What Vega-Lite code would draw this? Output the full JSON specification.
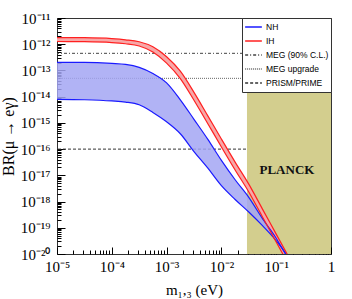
{
  "$schema": "https://vega.github.io/schema/vega-lite/v6.json",
  "width": 274,
  "height": 236,
  "autosize": {"type": "none"},
  "padding": {"left": 57, "top": 18, "right": 21, "bottom": 45},
  "background": "white",
  "config": {"view": {"stroke": "#333", "strokeWidth": 1}},
  "datasets": {
    "nh": [
      {"x": 1e-5, "hi": 2.04e-13, "lo": 7.94e-15},
      {"x": 3.16e-5, "hi": 2.03e-13, "lo": 7.64e-15},
      {"x": 1e-4, "hi": 1.86e-13, "lo": 6.86e-15},
      {"x": 1.78e-4, "hi": 1.70e-13, "lo": 6.22e-15},
      {"x": 3.16e-4, "hi": 1.31e-13, "lo": 4.93e-15},
      {"x": 5.62e-4, "hi": 7.66e-14, "lo": 2.51e-15},
      {"x": 1e-3, "hi": 3.37e-14, "lo": 1.10e-15},
      {"x": 1.78e-3, "hi": 7.59e-15, "lo": 3.86e-16},
      {"x": 3.16e-3, "hi": 1.37e-15, "lo": 8.09e-17},
      {"x": 5.62e-3, "hi": 2.40e-16, "lo": 1.91e-17},
      {"x": 1e-2, "hi": 3.72e-17, "lo": 4.02e-18},
      {"x": 1.78e-2, "hi": 6.78e-18, "lo": 1.20e-18},
      {"x": 3.16e-2, "hi": 1.45e-18, "lo": 3.98e-19},
      {"x": 5.62e-2, "hi": 2.24e-19, "lo": 1.20e-19},
      {"x": 0.1, "hi": 4.0e-20, "lo": 3.2e-20},
      {"x": 0.1225, "hi": 1.95e-20, "lo": 1.85e-20},
      {"x": 0.158, "hi": 8.9e-21, "lo": 7.9e-21}
    ],
    "ih": [
      {"x": 1e-5, "hi": 1.80e-12, "lo": 1.27e-12},
      {"x": 3.16e-5, "hi": 1.77e-12, "lo": 1.25e-12},
      {"x": 1e-4, "hi": 1.63e-12, "lo": 1.16e-12},
      {"x": 1.78e-4, "hi": 1.47e-12, "lo": 1.04e-12},
      {"x": 3.16e-4, "hi": 1.24e-12, "lo": 8.55e-13},
      {"x": 5.62e-4, "hi": 7.98e-13, "lo": 5.04e-13},
      {"x": 1e-3, "hi": 3.33e-13, "lo": 1.91e-13},
      {"x": 1.78e-3, "hi": 9.33e-14, "lo": 4.90e-14},
      {"x": 3.16e-3, "hi": 1.46e-14, "lo": 7.31e-15},
      {"x": 5.62e-3, "hi": 1.90e-15, "lo": 9.53e-16},
      {"x": 1e-2, "hi": 2.42e-16, "lo": 1.21e-16},
      {"x": 1.78e-2, "hi": 3.20e-17, "lo": 1.60e-17},
      {"x": 3.16e-2, "hi": 4.63e-18, "lo": 2.32e-18},
      {"x": 5.62e-2, "hi": 5.16e-19, "lo": 2.59e-19},
      {"x": 0.1, "hi": 5.74e-20, "lo": 2.88e-20},
      {"x": 0.178, "hi": 6.38e-21, "lo": 3.20e-21}
    ],
    "limits": [
      {"series": "MEG (90% C.L.)", "value": 4.5e-13},
      {"series": "MEG upgrade", "value": 5e-14},
      {"series": "PRISM/PRIME", "value": 1e-16}
    ],
    "planck": [
      {"name": "PLANCK", "from": 0.0293, "to": 1}
    ]
  },
  "layer": [
    {
      "data": {"name": "limits"},
      "mark": {"type": "rule", "strokeWidth": 1, "clip": true},
      "encoding": {
        "y": {"field": "value", "type": "quantitative", "scale": {"type": "log", "domain": [1e-20, 1e-11], "nice": false}},
        "color": {
          "field": "series", "type": "nominal",
          "scale": {"domain": ["NH", "IH", "MEG (90% C.L.)", "MEG upgrade", "PRISM/PRIME"], "range": ["#1a1aff", "#ff2020", "#444444", "#666666", "#333333"]},
          "legend": {"title": null, "orient": "top-right", "offset": 0, "fillColor": "white", "strokeColor": "#333", "padding": 2, "symbolType": "stroke", "symbolSize": 280, "symbolStrokeWidth": 1.5, "labelFont": "Liberation Sans", "labelFontSize": 8.5, "labelColor": "black", "clipHeight": 14, "rowPadding": 0, "labelOffset": 3, "labelLimit": 200}
        },
        "strokeDash": {
          "field": "series", "type": "nominal",
          "scale": {"domain": ["NH", "IH", "MEG (90% C.L.)", "MEG upgrade", "PRISM/PRIME"], "range": [[1, 0], [1, 0], [3, 2, 1, 2], [1, 1], [3, 2]]},
          "legend": {"title": null, "orient": "top-right", "offset": 0, "fillColor": "white", "strokeColor": "#333", "padding": 2, "symbolType": "stroke", "symbolSize": 280, "symbolStrokeWidth": 1.5, "labelFont": "Liberation Sans", "labelFontSize": 8.5, "labelColor": "black", "clipHeight": 14, "rowPadding": 0, "labelOffset": 3, "labelLimit": 200}
        }
      }
    },
    {
      "data": {"name": "planck"},
      "mark": {"type": "rect", "color": "#d3ce8e", "opacity": 1, "clip": true},
      "encoding": {
        "x": {"field": "from", "type": "quantitative"},
        "x2": {"field": "to"},
        "y": {"datum": 1e-20, "type": "quantitative"},
        "y2": {"datum": 1e-11}
      }
    },
    {
      "data": {"name": "nh"},
      "mark": {"type": "area", "color": "#a3a6f3", "opacity": 0.85, "interpolate": "monotone", "clip": true},
      "encoding": {
        "x": {
          "field": "x", "type": "quantitative",
          "scale": {"type": "log", "domain": [1e-5, 1], "nice": false},
          "axis": {
            "title": "m₁,₃ (eV)",
            "values": [1e-5,2e-5,3e-5,4e-5,5e-5,6e-5,7e-5,8e-5,9e-5,1e-4,2e-4,3e-4,4e-4,5e-4,6e-4,7e-4,8e-4,9e-4,1e-3,2e-3,3e-3,4e-3,5e-3,6e-3,7e-3,8e-3,9e-3,1e-2,2e-2,3e-2,4e-2,5e-2,6e-2,7e-2,8e-2,9e-2,0.1,0.2,0.3,0.4,0.5,0.6,0.7,0.8,0.9,1],
            "labelExpr": "abs(log(datum.value)/LN10 - round(log(datum.value)/LN10)) > 0.001 ? '' : (round(log(datum.value)/LN10) == 0 ? '1' : '10' + ['⁻⁵','⁻⁴','⁻³','⁻²','⁻¹'][round(log(datum.value)/LN10) + 5])",
            "tickSize": {"condition": {"test": "abs(log(datum.value)/LN10 - round(log(datum.value)/LN10)) < 0.001", "value": -7}, "value": -4},
            "tickColor": "black",
            "labelPadding": 12,
            "labelFont": "Liberation Serif",
            "labelFontSize": 15,
            "labelColor": "black",
            "labelOverlap": false,
            "labelFlush": false,
            "grid": false,
            "domain": false,
            "titleFont": "Liberation Serif",
            "titleFontSize": 15,
            "titleFontWeight": "normal",
            "titleColor": "black",
            "titleY": 40,
            "titleBaseline": "alphabetic"
          }
        },
        "y": {
          "field": "lo", "type": "quantitative",
          "scale": {"type": "log", "domain": [1e-20, 1e-11], "nice": false},
          "axis": {
            "title": "BR(μ → eγ)",
            "values": [1e-20,2e-20,3e-20,4e-20,5e-20,6e-20,7e-20,8e-20,9e-20,1e-19,2e-19,3e-19,4e-19,5e-19,6e-19,7e-19,8e-19,9e-19,1e-18,2e-18,3e-18,4e-18,5e-18,6e-18,7e-18,8e-18,9e-18,1e-17,2e-17,3e-17,4e-17,5e-17,6e-17,7e-17,8e-17,9e-17,1e-16,2e-16,3e-16,4e-16,5e-16,6e-16,7e-16,8e-16,9e-16,1e-15,2e-15,3e-15,4e-15,5e-15,6e-15,7e-15,8e-15,9e-15,1e-14,2e-14,3e-14,4e-14,5e-14,6e-14,7e-14,8e-14,9e-14,1e-13,2e-13,3e-13,4e-13,5e-13,6e-13,7e-13,8e-13,9e-13,1e-12,2e-12,3e-12,4e-12,5e-12,6e-12,7e-12,8e-12,9e-12,1e-11],
            "labelExpr": "abs(log(datum.value)/LN10 - round(log(datum.value)/LN10)) > 0.001 ? '' : '10' + ['⁻²⁰','⁻¹⁹','⁻¹⁸','⁻¹⁷','⁻¹⁶','⁻¹⁵','⁻¹⁴','⁻¹³','⁻¹²','⁻¹¹'][round(log(datum.value)/LN10) + 20]",
            "tickSize": {"condition": {"test": "abs(log(datum.value)/LN10 - round(log(datum.value)/LN10)) < 0.001", "value": -8}, "value": -4},
            "tickColor": "black",
            "labelPadding": 15,
            "labelFont": "Liberation Serif",
            "labelFontSize": 15,
            "labelColor": "black",
            "labelOverlap": false,
            "labelFlush": false,
            "grid": false,
            "domain": false,
            "titleFont": "Liberation Serif",
            "titleFontSize": 16,
            "titleFontWeight": "normal",
            "titleColor": "black",
            "titleX": -49,
            "titleY": 118,
            "titleBaseline": "middle"
          }
        },
        "y2": {"field": "hi"}
      }
    },
    {
      "data": {"name": "ih"},
      "mark": {"type": "area", "color": "#f7a8a8", "interpolate": "monotone", "clip": true},
      "encoding": {
        "x": {"field": "x", "type": "quantitative"},
        "y": {"field": "lo", "type": "quantitative"},
        "y2": {"field": "hi"}
      }
    },
    {
      "data": {"name": "nh"},
      "mark": {"type": "line", "color": "#1a1aff", "strokeWidth": 1.2, "interpolate": "monotone", "clip": true},
      "encoding": {"x": {"field": "x", "type": "quantitative"}, "y": {"field": "hi", "type": "quantitative"}}
    },
    {
      "data": {"name": "nh"},
      "mark": {"type": "line", "color": "#1a1aff", "strokeWidth": 1.2, "interpolate": "monotone", "clip": true},
      "encoding": {"x": {"field": "x", "type": "quantitative"}, "y": {"field": "lo", "type": "quantitative"}}
    },
    {
      "data": {"name": "ih"},
      "mark": {"type": "line", "color": "#ff2020", "strokeWidth": 1.2, "interpolate": "monotone", "clip": true},
      "encoding": {"x": {"field": "x", "type": "quantitative"}, "y": {"field": "hi", "type": "quantitative"}}
    },
    {
      "data": {"name": "ih"},
      "mark": {"type": "line", "color": "#ff2020", "strokeWidth": 1.2, "interpolate": "monotone", "clip": true},
      "encoding": {"x": {"field": "x", "type": "quantitative"}, "y": {"field": "lo", "type": "quantitative"}}
    },
    {
      "data": {"name": "planck"},
      "mark": {"type": "text", "font": "Liberation Serif", "fontSize": 13, "fontWeight": "bold", "color": "#111", "align": "center", "baseline": "middle"},
      "encoding": {
        "text": {"field": "name"},
        "x": {"datum": 0.157, "type": "quantitative"},
        "y": {"datum": 1.6e-17, "type": "quantitative"}
      }
    }
  ]
}
